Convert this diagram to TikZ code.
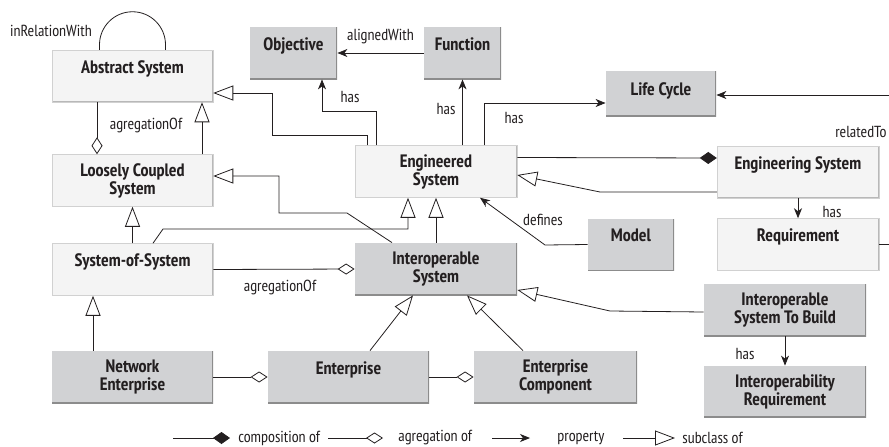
\documentclass[tikz,border=0pt]{standalone}
\usepackage{fontspec}
\IfFontExistsTF{PT Sans Narrow}{\setmainfont{PT Sans Narrow}}{\setmainfont{PT Sans}[FakeStretch=0.85]}
\usetikzlibrary{arrows.meta}

\definecolor{boxlight}{HTML}{F4F4F4}
\definecolor{boxdark}{HTML}{D1D2D4}
\definecolor{inkgray}{HTML}{231F20}

\begin{document}
\begin{tikzpicture}[x=1pt, y=-1pt, line width=0.8pt, draw=inkgray, text=inkgray,
    cls/.style={minimum width=161pt, minimum height=52pt, inner sep=0pt, align=center,
        font=\bfseries\fontsize{18}{18}\selectfont},
    edges/.style={path picture={\draw[#1, line width=1.6pt]
        (path picture bounding box.north east) -- (path picture bounding box.south east)
        -- (path picture bounding box.south west);}},
    lightbox/.style={cls, fill=boxlight, draw=black!18, line width=0.5pt, edges=black!28},
    darkbox/.style={cls, fill=boxdark, edges=black!45},
    lbl/.style={font=\fontsize{16}{18}\selectfont, inner sep=0pt},
    sub/.style={-{Triangle[open, length=20pt, width=15pt, fill=white]}},
    agg/.style={-{Diamond[open, length=17pt, width=11pt, fill=white]}},
    comp/.style={-{Diamond[length=17pt, width=12pt]}},
    prop/.style={-{Stealth[length=10pt, width=8pt, inset=3pt]}}]
    \useasboundingbox (0,0) rectangle (889,447);

    % Top row
    \node[lightbox] (abs) at (132.5,76) {Abstract System\\\mbox{}};
    \node[darkbox, minimum width=87pt] (obj) at (293.5,53) {Objective\\\mbox{}};
    \node[darkbox, minimum width=77pt] (fun) at (462.5,53) {Function\\\mbox{}};
    \node[darkbox, minimum width=110pt, minimum height=45pt, text depth=9pt] (lc) at (661,93.5) {Life Cycle};

    % Second row
    \node[lightbox] (lcs) at (132.5,180.5) {Loosely Coupled\\System};
    \node[lightbox, minimum width=162pt] (eng) at (436,171.5) {Engineered\\System};
    \node[lightbox, minimum width=162pt] (esys) at (798,172) {Engineering System\\\mbox{}};

    % Third row
    \node[lightbox] (sos) at (132.5,269.5) {System-of-System\\\mbox{}};
    \node[darkbox, minimum width=162pt] (is) at (436,269) {Interoperable\\System};
    \node[darkbox, minimum width=86pt] (mod) at (631,244.5) {Model\\\mbox{}};
    \node[lightbox, minimum width=162pt] (req) at (798,244.5) {Requirement\\\mbox{}};
    \node[darkbox, minimum width=162pt] (istb) at (785,310) {Interoperable\\System To Build};

    % Bottom row
    \node[darkbox] (ne) at (132.5,377) {Network\\Enterprise};
    \node[darkbox] (ent) at (348.5,377) {Enterprise\\\mbox{}};
    \node[darkbox, minimum width=163pt] (ec) at (555.5,377) {Enterprise\\Component};
    \node[darkbox, minimum width=162pt, minimum height=51pt] (ir) at (785,391.5) {Interoperability\\Requirement};

    % Properties
    \draw ([xshift=-33pt]abs.north) -- ++(0,-5) arc[start angle=180, end angle=360, radius=33] -- ([xshift=33pt]abs.north);
    \node[lbl] (lrel) at (51,31) {inRelationWith};
    \draw[prop] (fun.west) -- (obj.east) node[lbl, midway, above=9pt] (lalign) {alignedWith};
    \draw[prop] ([xshift=-60pt]eng.north) -- ++(0,-34) -| ([xshift=28.5pt]obj.south);
    \node[lbl] (lhas1) at (350,97) {has};
    \draw[prop] (eng.north -| fun.south) -- (fun.south);
    \node[lbl] (lhas2) at (446,109) {has};
    \draw[prop] ([xshift=48pt]eng.north) |- ([yshift=-9.5pt]lc.west);
    \node[lbl] (lhas3) at (514,118) {has};
    \draw[prop] (req.east) -- ++(20,0) |- ([yshift=-1.5pt]lc.east);
    \node[lbl, anchor=east] (lrelto) at (887,132) {relatedTo};
    \draw[prop] (esys.south) -- (req.north);
    \node[lbl] (lhas4) at (832,212) {has};
    \draw[prop] (mod.west) -- (545,245) -- ([xshift=44pt]eng.south);
    \node[lbl] (ldef) at (543,220) {defines};
    \draw[prop] (istb.south) -- (ir.north);
    \node[lbl] (lhas5) at (745,354) {has};

    % Composition and aggregation
    \draw[comp] ([yshift=14pt]eng.east) -- ([yshift=14pt]esys.west);
    \draw[agg] ([xshift=-35.5pt]abs.south) -- ([xshift=-35.5pt]lcs.north);
    \node[lbl] (lagg1) at (146,125) {agregationOf};
    \draw[agg] (sos.east) -- (is.west);
    \node[lbl] (lagg2) at (280,287) {agregationOf};
    \draw[agg] (ne.east) -- (ent.west);
    \draw[agg] (ent.east) -- (ec.west);

    % Subclasses
    \draw[sub] ([xshift=-69pt]eng.north) |- (272,135) |- ([yshift=-17pt]abs.east);
    \draw[sub] ([xshift=69.5pt]lcs.north) -- ([xshift=69.5pt]abs.south);
    \draw[sub] (sos.north) -- (lcs.south);
    \draw[sub] ([xshift=-44pt]is.north) -- (347,213) -- (279,213) -- (279,176) -- ([yshift=4.5pt]lcs.east);
    \draw[sub] ([xshift=20.5pt]sos.north) -- (163,229) -| ([xshift=-28pt]eng.south);
    \draw[sub] (is.north) -- (eng.south);
    \draw[sub] ([yshift=-20pt]esys.west) -- (600,192) -- ([yshift=-3.5pt]eng.east);
    \draw[sub] ([yshift=-2pt]istb.west) -- (610,311) -- ([yshift=-21pt]is.east);
    \draw[sub] ([xshift=-39.5pt]ne.north) -- ([xshift=-39.5pt]sos.south);
    \draw[sub] ([xshift=21.5pt]ent.north) -- ([xshift=-23pt]is.south);
    \draw[sub] ([xshift=-32.5pt]ec.north) -- ([xshift=31pt]is.south);

    % Legend
    \node[lbl, anchor=west] (kcomp) at (238,438) {composition of};
    \node[lbl, anchor=west] (kagg) at (398,438) {agregation of};
    \node[lbl, anchor=west] (kprop) at (557,438) {property};
    \node[lbl, anchor=west] (ksub) at (682,438) {subclass of};
    \draw[comp] ([xshift=-65pt]kcomp.west) -- ([xshift=-8pt]kcomp.west);
    \draw[agg] ([xshift=-70pt]kagg.west) -- ([xshift=-15pt]kagg.west);
    \draw[prop] ([xshift=-65pt]kprop.west) -- ([xshift=-27pt]kprop.west);
    \draw[sub] ([xshift=-59pt]ksub.west) -- ([xshift=-7pt]ksub.west);
\end{tikzpicture}
\end{document}
